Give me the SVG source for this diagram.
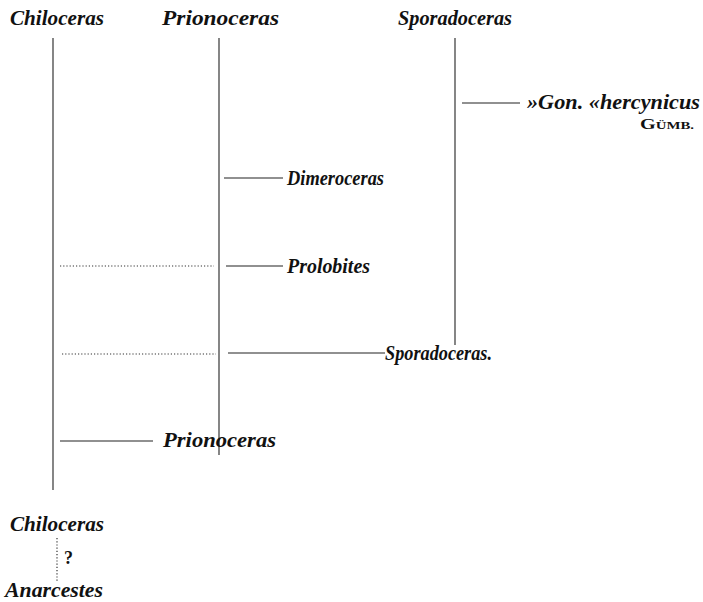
<svg xmlns="http://www.w3.org/2000/svg" width="703" height="602" viewBox="0 0 703 602">
<style>
.t{font-family:"Liberation Serif","DejaVu Serif",serif;font-style:italic;font-weight:bold;font-size:20px;fill:#111}
.s{font-family:"Liberation Serif","DejaVu Serif",serif;font-weight:bold;font-size:15px;fill:#111}
.l{stroke:#222;stroke-width:1.1;fill:none}
.d{stroke:#333;stroke-width:1.2;fill:none;stroke-dasharray:1.2 2}
</style>
<rect width="703" height="602" fill="#fff"/>
<g id="connectors">
<line class="l" x1="53" y1="38" x2="53" y2="490"/>
<line class="l" x1="219" y1="38" x2="219" y2="455"/>
<line class="l" x1="455" y1="38" x2="455" y2="345"/>
<line class="l" x1="462" y1="103" x2="520" y2="103"/>
<line class="l" x1="224" y1="178" x2="283" y2="178"/>
<line class="d" x1="60" y1="266" x2="214" y2="266"/>
<line class="l" x1="226" y1="266" x2="283" y2="266"/>
<line class="d" x1="62" y1="354" x2="216" y2="354"/>
<line class="l" x1="228" y1="353" x2="385" y2="353"/>
<line class="l" x1="60" y1="441" x2="153" y2="441"/>
<line class="d" x1="57" y1="538" x2="57" y2="582"/>
</g>
<g id="n-chiloceras-top"><text class="t" x="10" y="25" textLength="94" lengthAdjust="spacingAndGlyphs">Chiloceras</text></g>
<g id="n-prionoceras-top"><text class="t" x="162" y="25" textLength="117" lengthAdjust="spacingAndGlyphs">Prionoceras</text></g>
<g id="n-sporadoceras-top"><text class="t" x="398" y="25" textLength="114" lengthAdjust="spacingAndGlyphs">Sporadoceras</text></g>
<g id="n-gon-hercynicus">
<text class="t" x="527" y="109" textLength="173" lengthAdjust="spacingAndGlyphs">»Gon. «hercynicus</text>
<text class="s" x="640" y="129" textLength="54" lengthAdjust="spacingAndGlyphs">G<tspan style="font-size:11px">ÜMB.</tspan></text>
</g>
<g id="n-dimeroceras"><text class="t" x="287" y="185" textLength="97" lengthAdjust="spacingAndGlyphs">Dimeroceras</text></g>
<g id="n-prolobites"><text class="t" x="287" y="273" textLength="83" lengthAdjust="spacingAndGlyphs">Prolobites</text></g>
<g id="n-sporadoceras"><text class="t" x="385" y="360" textLength="107" lengthAdjust="spacingAndGlyphs">Sporadoceras.</text></g>
<g id="n-prionoceras"><text class="t" x="163" y="447" textLength="113" lengthAdjust="spacingAndGlyphs">Prionoceras</text></g>
<g id="n-chiloceras"><text class="t" x="10" y="531" textLength="94" lengthAdjust="spacingAndGlyphs">Chiloceras</text></g>
<g id="n-question"><text class="s" x="64" y="564" style="font-size:18px">?</text></g>
<g id="n-anarcestes"><text class="t" x="5" y="597" textLength="98" lengthAdjust="spacingAndGlyphs">Anarcestes</text></g>
</svg>
